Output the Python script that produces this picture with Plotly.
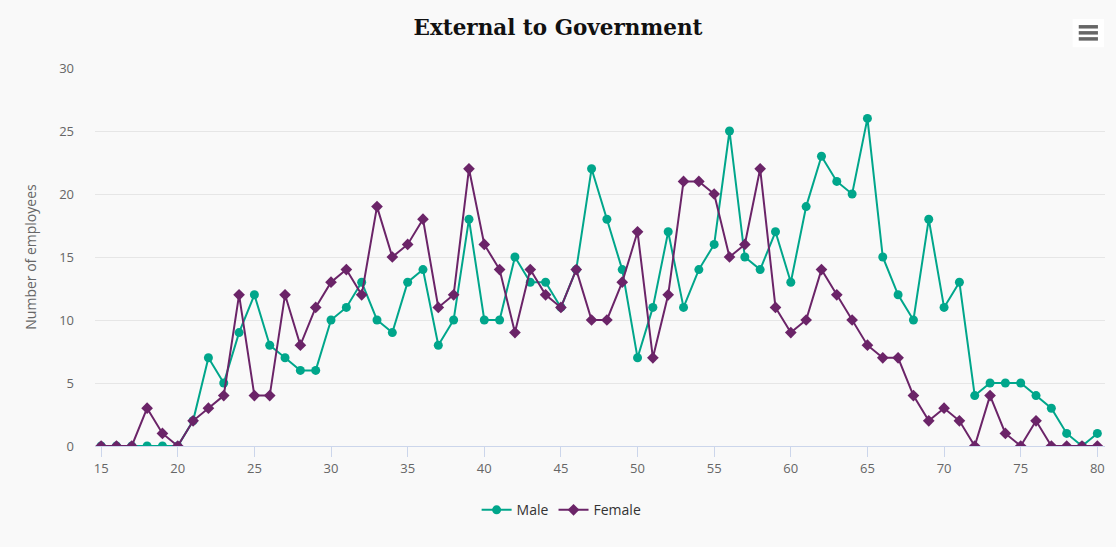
import plotly.graph_objects as go

ages = list(range(15, 81))
male = [0, 0, 0, 0, 0, 0, 2, 7, 5, 9, 12, 8, 7, 6, 6, 10, 11, 13, 10, 9, 13, 14, 8, 10, 18, 10, 10, 15, 13, 13,
        11, 14, 22, 18, 14, 7, 11, 17, 11, 14, 16, 25, 15, 14, 17, 13, 19, 23, 21, 20, 26, 15, 12, 10, 18, 11,
        13, 4, 5, 5, 5, 4, 3, 1, 0, 1]
female = [0, 0, 0, 3, 1, 0, 2, 3, 4, 12, 4, 4, 12, 8, 11, 13, 14, 12, 19, 15, 16, 18, 11, 12, 22, 16, 14, 9, 14, 12,
          11, 14, 10, 10, 13, 17, 7, 12, 21, 21, 20, 15, 16, 22, 11, 9, 10, 14, 12, 10, 8, 7, 7, 4, 2, 3,
          2, 0, 4, 1, 0, 2, 0, 0, 0, 0]
x_ticks = list(range(15, 81, 5))
y_ticks = [0, 5, 10, 15, 20, 25, 30]

MALE_C = "#00a68b"
FEMALE_C = "#6b2468"

fig = go.Figure()
fig.add_trace(go.Scatter(x=ages, y=male, name="Male", mode="lines+markers",
                         line=dict(color=MALE_C, width=2),
                         marker=dict(symbol="circle", size=9, color=MALE_C)))
fig.add_trace(go.Scatter(x=ages, y=female, name="Female", mode="lines+markers",
                         line=dict(color=FEMALE_C, width=2),
                         marker=dict(symbol="diamond", size=9, color=FEMALE_C)))

fig.update_layout(
    width=1116, height=547,
    paper_bgcolor="#f9f9f9", plot_bgcolor="#f9f9f9",
    margin=dict(l=95, r=11, t=68, b=101, autoexpand=False),
    font=dict(family="Open Sans, sans-serif", color="#666666", size=13),
    title=dict(text="<b>External to Government</b>", x=0.5, xanchor="center", y=0.95, yanchor="middle",
               font=dict(family="DejaVu Serif, serif", size=21.5, color="#111111")),
    showlegend=True,
    legend=dict(orientation="h", x=0.462, xanchor="center", y=-0.17, yanchor="middle",
                font=dict(family="Open Sans, sans-serif", size=14, color="#333333"),
                bgcolor="rgba(0,0,0,0)", itemwidth=30),
    xaxis=dict(range=[14.6, 80.5], tickvals=x_ticks, showgrid=False, zeroline=False,
               showline=True, linecolor="#ccd6eb", linewidth=1,
               ticks="outside", ticklen=10, tickcolor="#ccd6eb", tickwidth=1,
               tickfont=dict(size=13, color="#666666")),
    yaxis=dict(range=[0, 30], tickvals=y_ticks, showgrid=True, gridcolor="#e6e6e6", gridwidth=1,
               zeroline=False, showline=False, ticks="",
               ticklabelstandoff=20,
               tickfont=dict(size=13, color="#666666"),
               title=dict(text="Number of employees", standoff=19,
                          font=dict(size=14, color="#666666"))),
    hovermode="x unified",
)

# context menu (hamburger) icon
fig.add_shape(type="rect", xref="paper", yref="paper", x0=0.968, x1=0.999, y0=1.055, y1=1.13,
              fillcolor="#ffffff", line=dict(width=0), layer="below")
for yy in [1.077, 1.093, 1.109]:
    fig.add_shape(type="line", xref="paper", yref="paper",
                  x0=0.974, x1=0.993, y0=yy, y1=yy,
                  line=dict(color="#666666", width=3.5))

fig.write_html("out.html", config={"displayModeBar": False},
               post_script="document.body.style.margin='0';document.body.style.padding='0';")
